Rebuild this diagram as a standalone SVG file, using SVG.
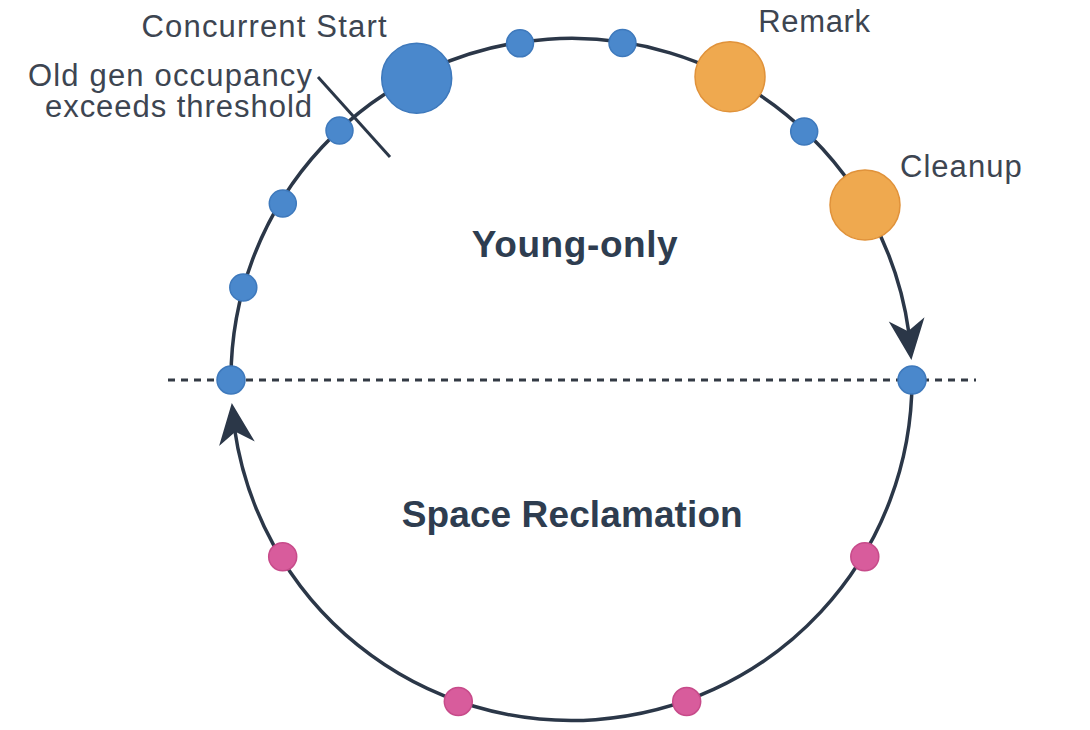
<svg xmlns="http://www.w3.org/2000/svg" width="1090" height="730" viewBox="0 0 1090 730">
  <defs>
    <style>
      .ring { fill: none; stroke: #2b3748; stroke-width: 3.5; }
      .tick { fill: none; stroke: #2b3748; stroke-width: 3; }
      .horizon { fill: none; stroke: #333a44; stroke-width: 3; stroke-dasharray: 7 6; }
      .arrowhead { fill: #2b3748; stroke: none; }
      .blue { fill: #4a88cc; stroke: #3e79bc; stroke-width: 1.5; }
      .orange { fill: #efa94f; stroke: #e0923a; stroke-width: 1.5; }
      .pink { fill: #d85c9c; stroke: #c74b8a; stroke-width: 1.5; }
      .label { font-family: "Liberation Sans", Arial, Helvetica, sans-serif; font-size: 31px; fill: #3d4551; }
      .phase { font-family: "Liberation Sans", Arial, Helvetica, sans-serif; font-size: 37px; font-weight: bold; fill: #2e3d50; }
    </style>
    <path id="ah" d="M0,0 L-41,-18 L-29,0 L-41,18 Z"/>
  </defs>

  <line class="horizon" x1="168" y1="380" x2="976" y2="380"/>

  <g id="connectors">
    <path class="ring" d="M231,380 A340.5,340.5 0 0 1 908.9,333"/>
    <path class="ring" d="M912,380 A340.5,340.5 0 0 1 234.4,428"/>
    <use href="#ah" class="arrowhead" transform="translate(911.4,360) rotate(83.3)"/>
    <use href="#ah" class="arrowhead" transform="translate(231.8,403) rotate(-97.2)"/>
    <line class="tick" x1="318" y1="77" x2="390" y2="157"/>
  </g>

  <g id="node-left-horizon"><circle class="blue" cx="231" cy="380" r="14"/></g>
  <g id="node-right-horizon"><circle class="blue" cx="912" cy="380" r="14"/></g>
  <g id="node-y1"><circle class="blue" cx="243.3" cy="287.5" r="13.5"/></g>
  <g id="node-y2"><circle class="blue" cx="282.8" cy="203.5" r="13.5"/></g>
  <g id="node-threshold"><circle class="blue" cx="339.5" cy="130.5" r="13.5"/></g>
  <g id="node-concurrent-start"><circle class="blue" cx="416.7" cy="78.3" r="35"/></g>
  <g id="node-y3"><circle class="blue" cx="520" cy="43.3" r="13.5"/></g>
  <g id="node-y4"><circle class="blue" cx="622.5" cy="43" r="13.5"/></g>
  <g id="node-remark"><circle class="orange" cx="730" cy="76.7" r="35"/></g>
  <g id="node-y5"><circle class="blue" cx="804.2" cy="131.5" r="13.5"/></g>
  <g id="node-cleanup"><circle class="orange" cx="865" cy="205" r="35"/></g>
  <g id="node-m1"><circle class="pink" cx="864.8" cy="556.7" r="14"/></g>
  <g id="node-m2"><circle class="pink" cx="686.7" cy="701.5" r="14"/></g>
  <g id="node-m3"><circle class="pink" cx="458.3" cy="701.5" r="14"/></g>
  <g id="node-m4"><circle class="pink" cx="282.7" cy="556.7" r="14"/></g>

  <g id="labels">
    <text class="label" x="141.5" y="37" textLength="245" lengthAdjust="spacing">Concurrent Start</text>
    <text class="label" x="28" y="85.5" textLength="284" lengthAdjust="spacing">Old gen occupancy</text>
    <text class="label" x="45" y="116.5" textLength="267" lengthAdjust="spacing">exceeds threshold</text>
    <text class="label" x="758.3" y="32.3" textLength="111.7" lengthAdjust="spacing">Remark</text>
    <text class="label" x="900" y="176.7" textLength="121.7" lengthAdjust="spacing">Cleanup</text>
    <text class="phase" x="471.7" y="256.7" textLength="206" lengthAdjust="spacing">Young-only</text>
    <text class="phase" x="401.7" y="527.3" textLength="341" lengthAdjust="spacing">Space Reclamation</text>
  </g>
</svg>
